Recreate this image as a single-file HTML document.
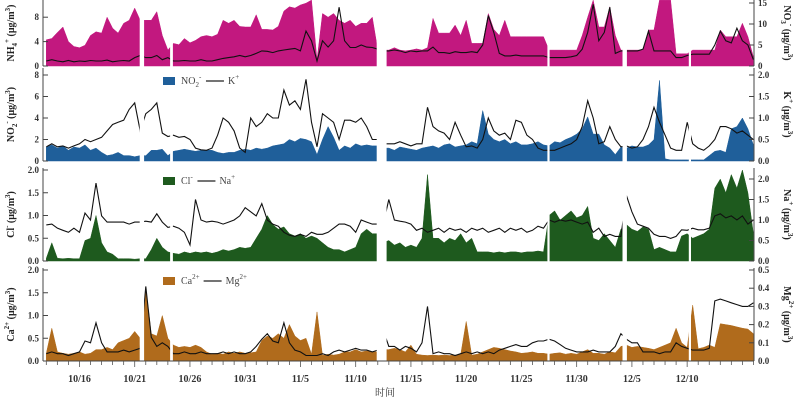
<!DOCTYPE html>
<html><head><meta charset="utf-8"><style>
html,body{margin:0;padding:0;background:#fff;}
svg{display:block;font-family:"Liberation Serif","Noto Serif CJK SC",serif;}
.tk{font-size:9px;font-weight:bold;fill:#333;}
.ttl{font-size:10px;font-weight:bold;fill:#222;}
</style></head><body>
<svg id="chart" width="800" height="403" viewBox="0 0 800 403" xmlns="http://www.w3.org/2000/svg"></svg>
<script>
// ---- data (half-day steps from 10/13) ----
const startT = 0, stepT = 0.5;
const xTickLabels = ["10/16","10/21","10/26","10/31","11/5","11/10","11/15","11/20","11/25","11/30","12/5","12/10"];
const xTickDays = [3,8,13,18,23,28,33,38,43,48,53,58];
const gaps = [[8.45,8.85],[11.2,11.45],[29.9,30.8],[45.35,45.55],[52.15,52.55],[58.15,58.35]];
const nh4 = [4.3,4.5,5.5,6.4,4,3.2,3,3.4,5,5.6, 5.4,8,6.2,5.4,7,7.5,9.5,7.5,7.5,7.5, 8.9,5,2.6,3.7,3.5,4.5,3.8,4.2,4.8,5, 4.8,5.2,7.5,7,7.5,6.5,6.4,6.4,8.4,6, 6,5.9,6.5,9,9.7,9.5,10,10.3,10.8,1, 8.6,8,8.6,7.5,7,7.5,6.5,7,7,8, 2.6,2.6,2.6,3,2.6,2.5,2.6,2.8,2.6,3, 7.8,5.4,5.4,5.4,6.7,5,7.5,3.7,3.7,3.7, 8.6,6,5,7.5,4.8,4.8,4.8,4.8,4.8,4.8, 4.8,2.6,2.6,2.6,2.6,2.6,2.6,5,8,10.8, 6.4,6.4,9.7,5,2.6,2.6,2.6,2.6,2.6,5.9, 5.9,10.8,10.8,10.8,2,2,2,2.6,2.6,2.6, 2.6,2.6,5.9,4.8,4.8,4.8,7,4.8,1.5];
const no3 = [1.2,1.5,1.2,1,1.3,1,1.2,1.1,1.3,1.2, 1.2,1.4,1,1.2,1.3,1.2,2,2.5,2,2, 2.5,1.5,2,1.2,1.2,1.3,1.2,1.2,1.5,1.2, 1.2,1.5,1.8,2,2.2,2.5,2.2,2.5,3,3.6, 3.5,3.2,3.6,3.8,4,4.2,3.6,8.3,6,1.2, 6,4.5,6,14,6,4.4,4.4,5,4.5,4.4, 4,3.6,3.6,3.8,3.6,3.2,3.6,3.4,3.6,3.6, 4.5,3.2,3.2,3,3.4,3.2,3.2,3.4,3.2,5, 12,8,3,2.4,2.4,2.6,2.4,2.4,2.4,2.4, 2.4,2,2,2,2,2.2,2.5,4,8,14.7, 6,8,14,3,3.6,3.6,3.6,3.6,4,8.3, 3.6,3.6,3.6,3.6,2,2,2.5,2.8,2.8,2.8, 2.8,5,8.3,6,5.5,9,6,5,1.5];
const no2 = [1.3,1.5,1.2,1.4,1,1.3,1.2,1.5,1,1.2, 0.8,0.5,0.6,0.8,0.5,0.5,0.4,0.5,0.5,1, 1,1.1,0.5,0.9,1,1.1,1,0.9,1,1, 1,0.8,0.7,0.8,0.8,1,1.1,1,1.2,1.1, 1.2,1.4,1.5,1.6,2,1.8,2.1,2,1.8,0.6, 2,3.2,2.2,1,1.4,1.2,1.6,1.4,1.5,1.4, 1.4,1.2,1.2,1,1.3,1.2,1.1,1,1.2,1.3, 1.4,1.2,1.5,1.6,1.3,1.4,1.5,1.8,1.6,4.7, 2.5,2,1.8,2,1.6,1.8,1.5,1.5,1.6,1.8, 1.5,1.4,1.8,1.7,2,2.2,2.5,3,4.1,2.5, 2.5,1.5,1.2,0.6,1.3,1.2,1.4,1.3,1.3,1.5, 2,7.5,0.2,0.1,0.1,0.1,0.1,0.1,0.1,0.1, 0.5,0.9,1,0.8,3,3.2,4,3,1.5];
const kIon = [0.33,0.4,0.33,0.35,0.3,0.35,0.4,0.5,0.45,0.5, 0.55,0.7,0.85,0.9,0.95,1.2,1.35,0.7,1.1,1.2, 1.35,0.65,0.57,0.6,0.55,0.57,0.5,0.3,0.26,0.25, 0.3,0.6,1.0,0.9,0.7,0.3,0.2,1.0,0.8,0.9, 1.1,1.0,1.0,1.65,1.3,1.4,1.2,1.9,0.9,0.33, 1.1,1.0,0.9,0.5,0.95,0.95,0.9,1.0,0.8,0.5, 0.5,0.4,0.4,0.4,0.45,0.4,0.35,0.4,0.4,1.25, 0.8,0.7,0.65,0.5,0.9,0.6,0.33,0.35,0.3,0.5, 1.0,0.7,0.6,0.65,0.5,0.95,0.9,0.6,0.5,0.3, 0.25,0.25,0.25,0.3,0.35,0.4,0.5,0.8,1.4,1.0, 0.4,0.45,0.8,0.5,0.33,0.35,0.3,0.33,0.5,0.8, 1.25,0.9,0.6,0.3,0.25,0.25,0.9,0.4,0.3,0.25, 0.35,0.5,0.8,0.8,0.75,0.65,0.7,0.6,0.5];
const cl = [0.06,0.4,0.06,0.05,0.06,0.05,0.05,0.45,0.5,1.0, 0.4,0.2,0.15,0.05,0.05,0.05,0.04,0.05,0.05,0.25, 0.5,0.3,0.2,0.17,0.15,0.2,0.17,0.2,0.18,0.2, 0.17,0.2,0.25,0.22,0.25,0.3,0.28,0.3,0.5,0.7, 1.0,0.8,0.7,0.75,0.6,0.55,0.6,0.5,0.55,0.5, 0.4,0.3,0.25,0.25,0.2,0.25,0.3,0.6,0.7,0.6, 0.6,0.4,0.45,0.35,0.4,0.3,0.35,0.3,0.5,1.9, 0.5,0.5,0.4,0.5,0.45,0.6,0.4,0.5,0.2,0.2, 0.2,0.18,0.2,0.18,0.2,0.2,0.18,0.2,0.2,0.22, 0.2,1.0,1.1,0.9,1.0,1.1,0.95,1.0,1.2,0.5, 0.45,0.6,0.45,0.3,0.7,0.8,0.7,0.65,0.75,0.7, 0.25,0.3,0.25,0.2,0.2,0.55,0.6,0.5,0.55,0.6, 0.7,1.6,1.8,1.5,1.9,1.6,2.0,1.5,0.6];
const na = [0.88,0.9,0.8,0.75,0.7,0.8,0.7,1.17,1.0,1.9, 1.1,0.95,0.95,0.95,0.95,0.9,0.95,0.95,0.97,0.95, 1.15,0.95,0.82,0.85,0.8,0.7,0.39,1.5,1.0,0.95, 0.97,0.95,0.9,0.95,1.0,1.1,1.3,1.2,1.1,1.4, 1.0,0.9,0.85,0.7,0.63,0.6,0.65,0.6,0.7,0.65, 0.65,0.7,0.8,0.9,0.9,0.85,0.7,1.0,0.95,0.9, 0.9,0.9,1.5,1.0,0.97,0.95,0.9,0.75,0.8,0.7, 0.75,0.8,0.7,0.8,0.75,0.78,0.7,0.8,0.75,0.8, 0.7,0.75,0.8,0.7,0.8,0.75,0.8,0.7,0.75,0.85, 0.8,1.0,0.95,1.0,0.97,1.0,0.95,0.9,0.95,0.7, 0.8,0.6,0.65,0.6,0.6,1.6,1.2,0.9,0.85,0.8, 0.65,0.6,0.6,0.55,0.6,0.76,0.75,0.8,0.76,0.76, 0.8,1.1,1.15,1.05,1.1,1.0,1.1,0.9,1.0];
const ca = [0.17,0.72,0.2,0.17,0.15,0.17,0.2,0.15,0.17,0.25, 0.25,0.3,0.25,0.4,0.45,0.5,0.65,0.5,1.6,0.6, 0.55,1.0,0.5,0.35,0.3,0.32,0.3,0.35,0.3,0.2, 0.15,0.17,0.15,0.2,0.17,0.2,0.17,0.18,0.2,0.45, 0.55,0.5,0.6,0.5,0.8,0.55,0.45,0.5,0.15,1.08, 0.12,0.15,0.13,0.15,0.2,0.2,0.25,0.2,0.22,0.2, 0.2,0.25,0.25,0.28,0.25,0.2,0.35,0.15,0.13,0.12, 0.13,0.12,0.13,0.12,0.13,0.14,0.87,0.13,0.15,0.2, 0.25,0.3,0.28,0.25,0.22,0.2,0.17,0.18,0.2,0.17, 0.17,0.15,0.17,0.18,0.15,0.17,0.15,0.2,0.25,0.17, 0.17,0.15,0.2,0.18,0.32,0.35,0.3,0.32,0.3,0.28, 0.25,0.3,0.35,0.4,0.72,0.4,0.3,1.23,0.27,0.3, 0.35,0.3,0.82,0.8,0.78,0.75,0.72,0.7,0.6];
const mg = [0.04,0.05,0.04,0.04,0.03,0.04,0.05,0.11,0.1,0.21, 0.1,0.05,0.05,0.05,0.06,0.05,0.06,0.07,0.41,0.13, 0.08,0.1,0.08,0.04,0.04,0.05,0.04,0.04,0.05,0.04, 0.04,0.04,0.05,0.04,0.05,0.04,0.04,0.05,0.08,0.12, 0.15,0.11,0.1,0.21,0.1,0.06,0.05,0.03,0.03,0.03, 0.04,0.03,0.05,0.06,0.05,0.06,0.07,0.06,0.06,0.05, 0.06,0.17,0.08,0.08,0.06,0.08,0.07,0.05,0.1,0.3, 0.04,0.05,0.04,0.04,0.03,0.04,0.05,0.04,0.05,0.04, 0.05,0.04,0.06,0.07,0.08,0.09,0.08,0.08,0.1,0.11, 0.11,0.12,0.11,0.09,0.07,0.06,0.05,0.05,0.05,0.06, 0.05,0.05,0.05,0.08,0.15,0.12,0.1,0.1,0.05,0.05, 0.05,0.04,0.05,0.05,0.1,0.08,0.07,0.06,0.06,0.06, 0.07,0.33,0.34,0.33,0.32,0.31,0.3,0.3,0.32];

const leftTicks1 = [0,4,8], rightTicks1 = [0,5,10,15];
const leftTicks2 = [0,2,4,6,8], rightTicks2 = [0,0.5,1,1.5,2];
const leftTicks3 = [0,0.5,1,1.5,2], rightTicks3 = [0,0.5,1,1.5,2];
const leftTicks4 = [0,0.5,1,1.5,2], rightTicks4 = [0,0.1,0.2,0.3,0.4,0.5];

// ---- layout ----
const NS = "http://www.w3.org/2000/svg";
const svg = document.getElementById('chart');
const X0 = 43, X1 = 754, T0 = -0.3, T1 = 64.05;
const xS = t => X0 + (t - T0) / (T1 - T0) * (X1 - X0);
function mk(tag, attrs, parent){const e=document.createElementNS(NS,tag);for(const k in attrs)e.setAttribute(k,attrs[k]);(parent||svg).appendChild(e);return e;}

const panels = [
 {name:'nh4-no3', top:0, zero:66, lpx:6.1, rpx:4.2, area:nh4, line:no3, color:'#c2187f', lt:leftTicks1, rt:rightTicks1, ldec:0, rdec:0,
  ltitle:['NH','4','+',' (μg/m','3',')'], rtitle:['NO','3','-',' (μg/m','3',')'], legend:null},
 {name:'no2-k', top:68, zero:161, lpx:10.75, rpx:43, area:no2, line:kIon, color:'#1f5f9a', lt:leftTicks2, rt:rightTicks2, ldec:0, rdec:1,
  ltitle:['NO','2','-',' (μg/m','3',')'], rtitle:['K','','+',' (μg/m','3',')'], legend:['NO','2','-','K','+']},
 {name:'cl-na', top:168, zero:261, lpx:45.5, rpx:41, area:cl, line:na, color:'#1e5a1e', lt:leftTicks3, rt:rightTicks3, ldec:1, rdec:1,
  ltitle:['Cl','','-',' (μg/m','3',')'], rtitle:['Na','','+',' (μg/m','3',')'], legend:['Cl','','-','Na','+']},
 {name:'ca-mg', top:268, zero:361, lpx:45.5, rpx:182, area:ca, line:mg, color:'#b06b1c', lt:leftTicks4, rt:rightTicks4, ldec:1, rdec:1,
  ltitle:['Ca','','2+',' (μg/m','3',')'], rtitle:['Mg','','2+',' (μg/m','3',')'], legend:['Ca','','2+','Mg','2+']}
];

function titleText(parts, x, y, rot, name){
  const t = mk('text',{x:x,y:y,class:'ttl','text-anchor':'middle',transform:`rotate(${rot} ${x} ${y})`});
  
  
  const a = mk('tspan',{},t); a.textContent = parts[0];
  if(parts[1]){const s=mk('tspan',{'font-size':'7','dy':'3'},t); s.textContent=parts[1];}
  const p = mk('tspan',{'font-size':'7','dy': parts[1]?'-8':'-5'},t); p.textContent=parts[2];
  const m = mk('tspan',{'dy':'5'},t); m.textContent=parts[3];
  const c = mk('tspan',{'font-size':'7','dy':'-4'},t); c.textContent=parts[4];
  const e = mk('tspan',{'dy':'4'},t); e.textContent=parts[5];
}

panels.forEach(p => {
  const g = mk('g',{});
  
  
  const yL = v => p.zero - v * p.lpx;
  const yR = v => p.zero - v * p.rpx;
  // area
  let d = `M${xS(0).toFixed(1)},${p.zero}`;
  p.area.forEach((v,i)=>{ d += ` L${xS(startT+i*stepT).toFixed(1)},${Math.max(p.top,yL(v)).toFixed(1)}`; });
  d += ` L${xS(startT+(p.area.length-1)*stepT).toFixed(1)},${p.zero} Z`;
  const ar = mk('path',{d:d,fill:p.color,stroke:p.color,'stroke-width':0.5},g);
  
  
  // line
  let dl = '';
  p.line.forEach((v,i)=>{ dl += (i?' L':'M') + xS(startT+i*stepT).toFixed(1) + ',' + Math.max(p.top,yR(v)).toFixed(1); });
  const ln = mk('path',{d:dl,fill:'none',stroke:'#111','stroke-width':1.1},g);
  
  
  // gaps
  gaps.forEach(gp=>{
    const r = mk('rect',{x:xS(gp[0]).toFixed(1),y:p.top,width:(xS(gp[1])-xS(gp[0])).toFixed(1),height:p.zero-p.top+0.5,fill:'#fff'},g);
    
    
  });
  // axes
  const la = mk('line',{x1:X0,x2:X0,y1:p.top,y2:p.zero,stroke:'#444','stroke-width':1},g);
  
  
  const ra = mk('line',{x1:X1,x2:X1,y1:p.top,y2:p.zero,stroke:'#444','stroke-width':1},g);
  
  
  p.lt.forEach(v=>{
    const y = yL(v);
    mk('line',{x1:X0,x2:X0+5,y1:y,y2:y,stroke:'#444'},g);
    const t = mk('text',{x:X0-4,y:y+3,class:'tk','text-anchor':'end'},g);
    t.textContent = v.toFixed(p.ldec);
    
    
  });
  p.rt.forEach(v=>{
    const y = yR(v);
    mk('line',{x1:X1-5,x2:X1,y1:y,y2:y,stroke:'#444'},g);
    const t = mk('text',{x:X1+4,y:y+3,class:'tk','text-anchor':'start'},g);
    t.textContent = v.toFixed(p.rdec);
    
    
  });
  const mid = (p.top + p.zero)/2;
  titleText(p.ltitle, 14, mid, -90, p.name + '-left-axis-title');
  titleText(p.rtitle, 784, mid, 90, p.name + '-right-axis-title');
  if(p.legend){
    const ly = p.top + 14, lx = 163;
    const lg = mk('g',{},g);
    
    
    mk('rect',{x:lx,y:ly-5,width:12,height:8,fill:p.color},lg);
    const t = mk('text',{x:lx+18,y:ly+2,'font-size':'10',fill:'#444'},lg);
    const a=mk('tspan',{},t); a.textContent=p.legend[0];
    if(p.legend[1]){const s=mk('tspan',{'font-size':'7',dy:'3'},t); s.textContent=p.legend[1];}
    const q=mk('tspan',{'font-size':'7',dy:p.legend[1]?'-8':'-5'},t); q.textContent=p.legend[2];
    const s2=mk('tspan',{dy:p.legend[1]?'5':'5'},t); s2.textContent='  ';
    const tb = t.getBBox();
    const lx2 = tb.x + tb.width + 4;
    mk('line',{x1:lx2,x2:lx2+18,y1:ly-1,y2:ly-1,stroke:'#222','stroke-width':1.2},lg);
    const t2 = mk('text',{x:lx2+22,y:ly+2,'font-size':'10',fill:'#444'},lg);
    const b=mk('tspan',{},t2); b.textContent=p.legend[3];
    const c=mk('tspan',{'font-size':'7',dy:'-5'},t2); c.textContent=p.legend[4];
  }
});

// x axis
const xa = mk('line',{x1:X0,x2:X1,y1:361,y2:361,stroke:'#444'});


for(let dday=0; dday<=64; dday++){
  const x = xS(dday);
  const isMajor = xTickDays.indexOf(dday) >= 0;
  mk('line',{x1:x,x2:x,y1:361,y2:isMajor?367:365,stroke:'#555','stroke-width':0.8});
}
xTickLabels.forEach((lab,i)=>{
  const t = mk('text',{x:xS(xTickDays[i]),y:382,class:'tk','text-anchor':'middle','font-size':'10'});
  t.setAttribute('style','font-size:10px');
  t.textContent = lab;
  
  
});
const xt = mk('text',{x:385,y:396,'text-anchor':'middle','font-size':'10',fill:'#333'});
xt.textContent = '时间';


</script>
</body></html>
